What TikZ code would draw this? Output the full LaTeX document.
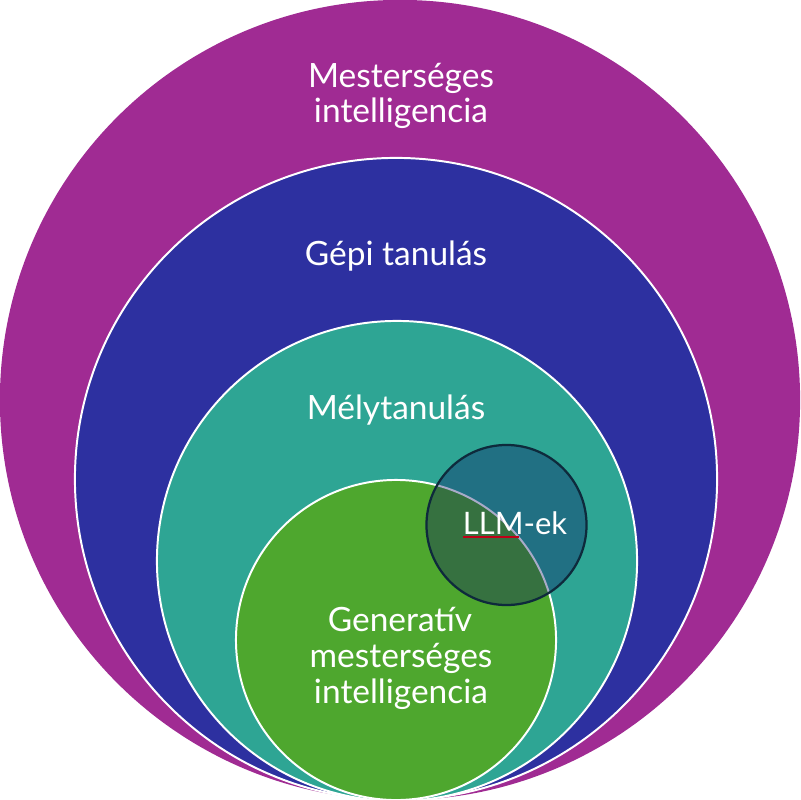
\documentclass[tikz,border=0pt]{standalone}
\usepackage{fontspec}
\setmainfont{Lato}
\definecolor{aipurple}{HTML}{A02B93}
\definecolor{mlblue}{HTML}{2D30A0}
\definecolor{dlteal}{HTML}{2EA594}
\definecolor{gengreen}{HTML}{4EA72E}
\definecolor{llmfill}{HTML}{0A0F64}
\definecolor{llmborder}{HTML}{0E2A3C}
\definecolor{spellred}{HTML}{C00018}
\begin{document}
\begin{tikzpicture}[x=0.025cm,y=-0.025cm,
  ring/.style={circle,inner sep=0pt,draw=white,line width=1.4pt},
  lbl/.style={text=white,inner sep=0pt,anchor=base,font=\fontsize{23.8}{26}\selectfont}]
\useasboundingbox (0,0) rectangle (800,800);
\node[ring,fill=aipurple,draw=none,minimum size=20cm] (ai) at (400,400) {};
\node[ring,fill=mlblue,minimum size=16.05cm] (ml) at (396,479) {};
\node[ring,fill=dlteal,minimum size=12cm] (dl) at (397,561) {};
\node[ring,fill=gengreen,minimum size=8cm] (gen) at (396,640) {};
\node[circle,inner sep=0pt,minimum size=4cm,fill=llmfill,fill opacity=0.35,
  draw=llmborder,line width=1.6pt] (llm) at (506.5,525) {};
\node[lbl] (t1) at (401,88) {Mesterséges};
\node[lbl] (t2) at (401,123) {intelligencia};
\node[lbl] (t3) at (396,265) {Gépi tanulás};
\node[lbl] (t4) at (396,419) {Mélytanulás};
\node[lbl] (t5) at (400,631) {Generatív};
\node[lbl] (t6) at (401,667) {mesterséges};
\node[lbl] (t7) at (401,703) {intelligencia};
\node[lbl,font=\fontsize{22}{26}\selectfont] (t8) at (515,534) {LLM-ek};
\draw[spellred,line width=1.6pt] ([yshift=-0.07cm]t8.base west) -- ++(56,0);
\end{tikzpicture}
\end{document}
